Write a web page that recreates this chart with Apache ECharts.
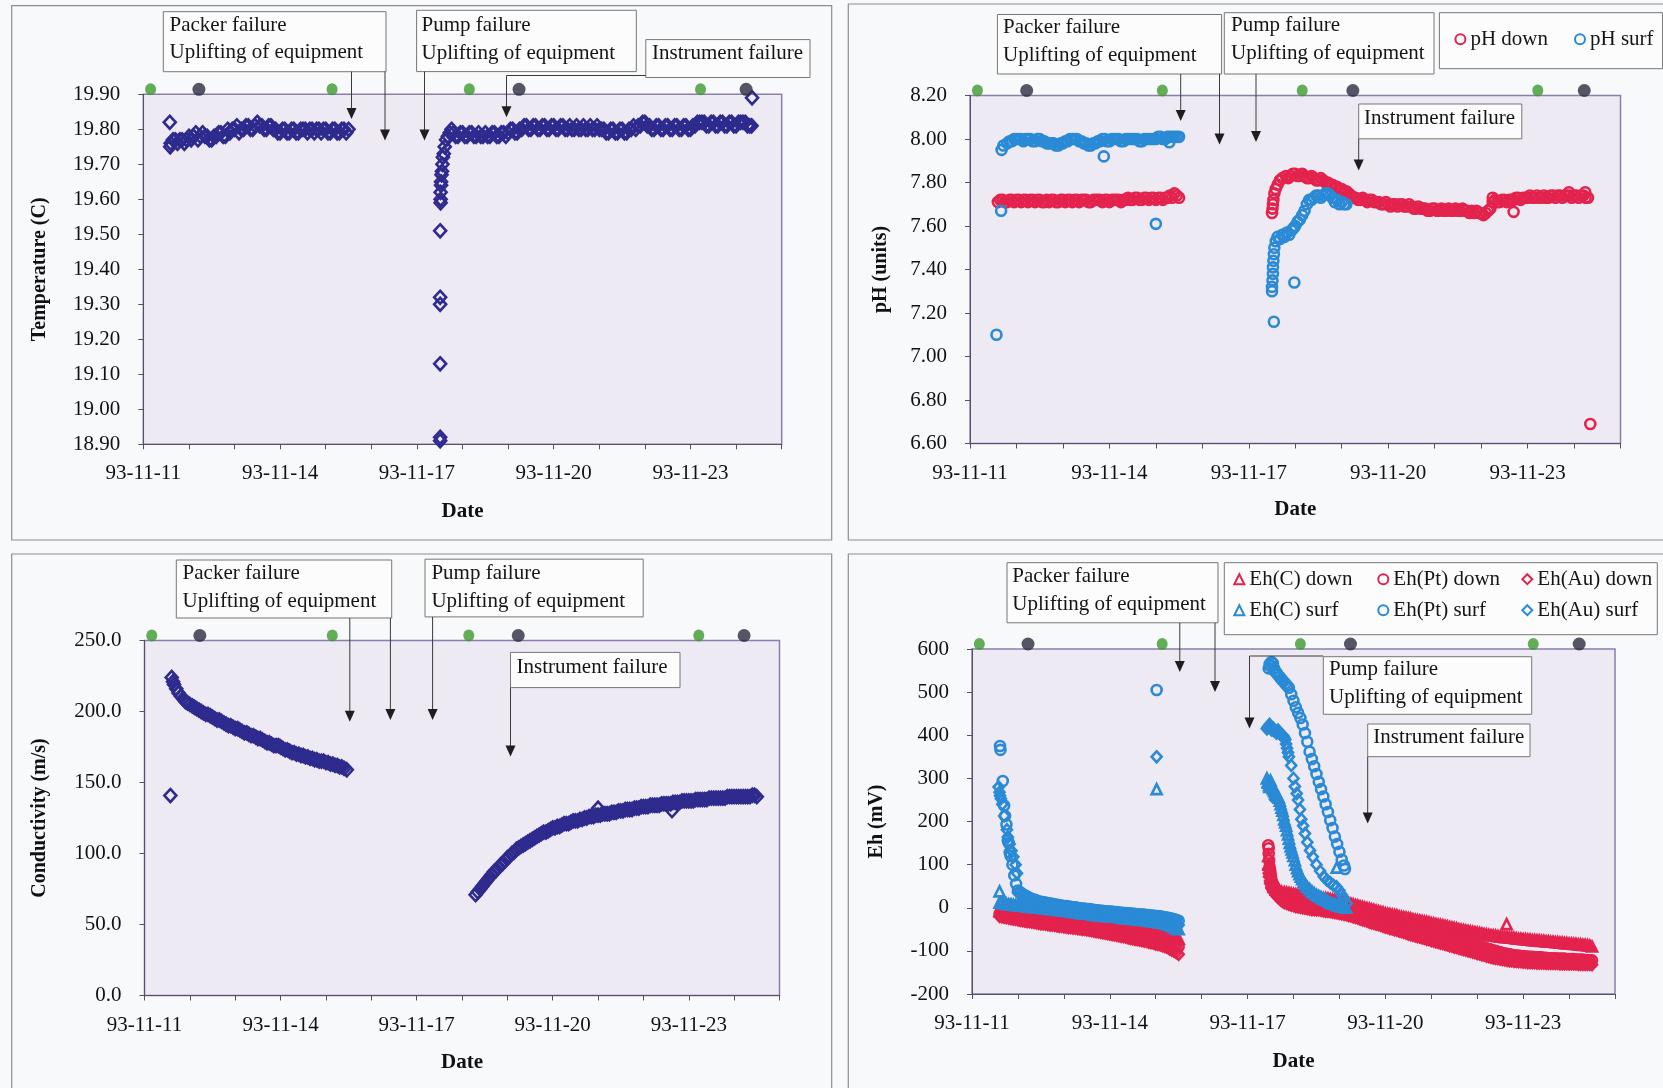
<!DOCTYPE html>
<html>
<head>
<meta charset="utf-8">
<title>Borehole monitoring, 93-11-11 to 93-11-25</title>
<script src="https://cdn.jsdelivr.net/npm/echarts/dist/echarts.min.js"></script>
<style>
  html, body { margin: 0; padding: 0; background: #f8f9fb; }
  #chart { width: 1663px; height: 1088px; }
</style>
</head>
<body>
<div id="chart"></div>
<script>
// ---------------------------------------------------------------
// Measured values. x = day of November 1993 (decimal); regular runs
// are logged every DAY_STEP days starting at the given day.
// ---------------------------------------------------------------
const DAY_STEP = 0.05;
const X_TICK_DAYS = [11, 14, 17, 20, 23];

// Temperature (C)
const tempStartA = 11.6;
const tempA = [
  19.76,19.77,19.77,19.76,19.77,19.77,19.76,19.77,19.78,19.77,
  19.78,19.79,19.77,19.78,19.79,19.78,19.78,19.77,19.77,19.78,
  19.78,19.79,19.79,19.78,19.78,19.80,19.79,19.80,19.80,19.81,
  19.79,19.80,19.80,19.81,19.81,19.80,19.80,19.81,19.82,19.81,
  19.81,19.80,19.80,19.81,19.81,19.80,19.80,19.79,19.79,19.80,
  19.80,19.79,19.79,19.80,19.80,19.79,19.79,19.80,19.80,19.80,
  19.79,19.80,19.80,19.79,19.80,19.80,19.79,19.80,19.80,19.79,
  19.79,19.80,19.80,19.79,19.79,19.80,19.80,19.79,19.80];
const tempStartB = 17.8;
const tempB = [
  19.79,19.78,19.78,19.79,19.79,19.78,19.78,19.79,19.79,19.78,
  19.78,19.79,19.78,19.78,19.79,19.78,19.78,19.79,19.79,19.78,
  19.78,19.79,19.79,19.78,19.79,19.80,19.80,19.79,19.79,19.80,
  19.80,19.81,19.81,19.80,19.80,19.81,19.81,19.80,19.80,19.81,
  19.81,19.80,19.80,19.81,19.81,19.80,19.80,19.81,19.81,19.80,
  19.80,19.81,19.80,19.80,19.81,19.80,19.80,19.81,19.80,19.80,
  19.81,19.80,19.80,19.81,19.80,19.80,19.80,19.79,19.79,19.80,
  19.80,19.79,19.79,19.80,19.80,19.79,19.79,19.80,19.80,19.81,
  19.80,19.81,19.81,19.82,19.82,19.81,19.81,19.80,19.80,19.81,
  19.81,19.80,19.80,19.81,19.81,19.80,19.80,19.81,19.81,19.80,
  19.80,19.81,19.81,19.80,19.80,19.81,19.81,19.82,19.82,19.82,
  19.82,19.81,19.81,19.82,19.82,19.81,19.81,19.82,19.82,19.81,
  19.81,19.82,19.82,19.81,19.81,19.82,19.82,19.82,19.82,19.81,
  19.81];
const tempExtra = [[11.58,19.82],[11.59,19.75],
  [17.51,18.91],[17.51,18.92],[17.51,19.13],[17.51,19.30],[17.51,19.32],[17.51,19.51],
  [17.52,19.59],[17.52,19.60],[17.52,19.62],[17.53,19.64],[17.53,19.65],[17.54,19.67],
  [17.55,19.68],[17.56,19.70],[17.57,19.72],[17.59,19.73],[17.61,19.75],[17.64,19.77],
  [17.68,19.78],[17.72,19.79],[17.76,19.80],[24.35,19.89],[24.34,19.81]];

// pH (units)
const phDownStartA = 11.6;
const phDownA = [
  7.71,7.72,7.72,7.71,7.71,7.72,7.72,7.71,7.72,7.72,
  7.71,7.72,7.72,7.71,7.72,7.72,7.71,7.72,7.72,7.71,
  7.71,7.72,7.71,7.72,7.72,7.71,7.71,7.72,7.72,7.71,
  7.72,7.72,7.71,7.72,7.72,7.71,7.72,7.72,7.72,7.71,
  7.71,7.72,7.72,7.72,7.72,7.71,7.72,7.72,7.71,7.72,
  7.72,7.72,7.72,7.71,7.72,7.72,7.73,7.72,7.72,7.73,
  7.73,7.72,7.72,7.73,7.73,7.72,7.73,7.73,7.72,7.73,
  7.73,7.72,7.73,7.73,7.74,7.73,7.75,7.74,7.73];
const phDownStartB = 17.8;
const phDownB = [
  7.83,7.82,7.83,7.84,7.84,7.83,7.83,7.84,7.83,7.82,
  7.82,7.83,7.82,7.81,7.81,7.82,7.81,7.80,7.80,7.79,
  7.79,7.78,7.78,7.77,7.77,7.76,7.76,7.75,7.74,7.73,
  7.73,7.72,7.72,7.73,7.72,7.71,7.72,7.72,7.71,7.71,
  7.71,7.70,7.70,7.71,7.70,7.69,7.70,7.70,7.69,7.70,
  7.70,7.69,7.69,7.70,7.69,7.68,7.68,7.69,7.68,7.68,
  7.68,7.67,7.67,7.68,7.68,7.67,7.67,7.68,7.67,7.67,
  7.68,7.67,7.67,7.68,7.67,7.67,7.68,7.67,7.67,7.66,
  7.67,7.66,7.67,7.66,7.66,7.65,7.66,7.67,7.68,7.71,
  7.72,7.71,7.71,7.72,7.72,7.71,7.72,7.72,7.72,7.73,
  7.73,7.72,7.73,7.73,7.73,7.74,7.73,7.73,7.74,7.73,
  7.73,7.74,7.73,7.73,7.74,7.74,7.73,7.74,7.74,7.73,
  7.74,7.74,7.74,7.73,7.74,7.74,7.73,7.74,7.74,7.73,
  7.73];
const phDownExtra = [[17.50,7.66],[17.51,7.68],[17.52,7.70],[17.53,7.72],[17.55,7.75],
  [17.58,7.77],[17.62,7.79],[17.67,7.81],[17.72,7.82],[22.25,7.73],[22.70,7.665],
  [23.89,7.755],[24.24,7.755],[24.35,6.69]];
const phSurfStartA = 11.8;
const phSurfA = [
  7.98,7.99,7.99,8.00,8.00,8.00,8.00,7.99,8.00,8.00,
  8.00,7.99,7.99,8.00,8.00,7.99,7.99,7.98,7.98,7.98,
  7.98,7.97,7.97,7.98,7.98,7.99,7.99,8.00,8.00,8.00,
  8.00,7.99,7.99,7.98,7.98,7.97,7.97,7.98,7.98,7.99,
  7.99,8.00,8.00,7.99,7.99,8.00,8.00,8.00,8.00,7.99,
  7.99,8.00,8.00,8.00,8.00,8.00,8.00,7.99,7.99,8.00,
  8.00,8.00,8.00,8.00,8.00,8.01,8.01,8.00,8.00,8.01,
  8.01,8.01,8.01,8.01,8.01];
const phSurfStartB = 18.0;
const phSurfB = [7.60,7.62,7.63,7.65,7.67,7.70,7.72,7.72,7.73,7.74,
                 7.74,7.73,7.74,7.75,7.75,7.74,7.73,7.71,7.72,7.70,
                 7.71,7.70,7.70];
const phSurfExtra = [[11.57,7.10],[11.67,7.67],[11.68,7.95],[11.72,7.97],[13.88,7.92],
  [15.00,7.61],[15.29,7.985],
  [17.50,7.30],[17.50,7.32],[17.51,7.35],[17.52,7.38],[17.52,7.41],[17.53,7.44],
  [17.54,7.47],[17.55,7.50],[17.54,7.16],[17.58,7.53],[17.62,7.55],[17.67,7.54],
  [17.72,7.56],[17.77,7.55],[17.82,7.57],[17.87,7.56],[17.92,7.58],[17.96,7.59],[17.98,7.34]];

// Conductivity (m/s)
const condStartA = 11.6;
const condA = [
  224,219,216,213,211,209,207,206,205,204,
  203,202,201,200,199,198,198,197,196,195,
  194,194,193,192,191,190,190,189,188,188,
  187,186,185,185,184,183,183,182,181,181,
  180,179,178,178,177,176,176,176,175,174,
  173,173,172,171,171,170,170,169,169,168,
  168,167,167,166,166,165,165,165,164,164,
  163,163,162,162,161,161,160];
const condStartB = 18.3;
const condB = [
  71,73,75,77,79,81,83,85,87,88,
  90,92,93,95,97,98,100,101,103,104,
  105,106,107,108,109,110,111,112,113,114,
  115,115,116,117,118,118,119,119,120,121,
  121,121,122,123,123,123,124,124,125,125,
  126,126,126,127,127,127,128,128,128,128,
  129,129,129,130,130,130,131,131,131,131,
  132,132,132,133,133,133,133,134,134,134,
  134,134,135,135,135,135,135,136,136,136,
  136,137,137,137,137,137,137,138,138,138,
  138,138,138,139,139,139,139,139,139,139,
  139,140,140,140,140,140,140,140,140,140,
  140,140,141,141,140];
const condExtra = [[11.57,140.8],[11.63,221],[15.46,159],[21.00,131.9],[22.63,130.2]];

// Eh (mV), first run
const ehStartA = 11.6;
const ehCDownA = [
  -8,-10,-11,-12,-13,-15,-16,-17,-18,-19,
  -20,-21,-22,-23,-24,-25,-26,-27,-28,-28,
  -29,-30,-30,-31,-31,-32,-33,-34,-34,-35,
  -35,-36,-36,-37,-38,-38,-39,-39,-40,-41,
  -41,-42,-42,-43,-44,-44,-45,-45,-46,-47,
  -48,-48,-49,-50,-50,-51,-52,-52,-53,-54,
  -55,-55,-56,-57,-58,-59,-60,-61,-62,-63,
  -64,-65,-66,-67,-68,-69,-70,-71,-72];
const ehPtDownA = [
  -14,-15,-16,-18,-19,-20,-21,-22,-23,-24,
  -25,-26,-27,-28,-29,-30,-30,-31,-32,-32,
  -33,-34,-35,-35,-36,-37,-38,-38,-39,-39,
  -40,-41,-42,-42,-43,-43,-44,-44,-45,-46,
  -47,-47,-48,-49,-50,-50,-51,-52,-53,-54,
  -55,-55,-56,-57,-58,-59,-60,-61,-62,-63,
  -64,-65,-66,-67,-68,-69,-70,-71,-73,-74,
  -75,-76,-78,-80,-82,-84,-86,-88,-90];
const ehAuDownA = [
  -20,-21,-22,-23,-24,-25,-26,-27,-28,-29,
  -30,-31,-32,-32,-33,-34,-35,-36,-37,-37,
  -38,-39,-40,-40,-41,-42,-43,-43,-44,-45,
  -46,-46,-47,-47,-48,-49,-50,-50,-51,-52,
  -53,-54,-55,-56,-57,-58,-59,-60,-61,-62,
  -63,-64,-65,-66,-67,-68,-70,-71,-72,-73,
  -74,-75,-76,-77,-78,-80,-81,-82,-84,-85,
  -86,-88,-90,-92,-95,-98,-101,-104,-108];
const ehCSurfA = [
  12,11,10,9,8,8,7,6,6,5,
  5,4,3,3,2,1,1,0,0,-1,
  -1,-2,-3,-3,-4,-4,-5,-6,-7,-7,
  -8,-9,-10,-10,-11,-12,-13,-13,-14,-14,
  -15,-16,-17,-17,-18,-18,-19,-19,-20,-20,
  -21,-21,-22,-23,-24,-24,-25,-25,-26,-26,
  -27,-27,-28,-28,-29,-30,-31,-31,-32,-33,
  -34,-35,-36,-38,-40,-42,-45,-48,-50];
const ehSurfStartA = 12.0;
const ehPtSurfA = [
  40,36,32,29,26,23,21,19,17,15,
  14,13,12,11,10,9,8,7,6,5,
  4,4,3,2,1,1,0,-1,-2,-2,
  -3,-3,-4,-5,-6,-6,-7,-7,-8,-8,
  -9,-9,-10,-10,-11,-11,-12,-12,-13,-13,
  -14,-14,-15,-15,-16,-16,-17,-17,-18,-18,
  -19,-19,-20,-21,-22,-23,-24,-25,-27,-28,
  -30];
const ehAuSurfA = [
  35,31,28,25,22,19,17,15,13,11,
  10,9,8,7,6,5,4,3,2,1,
  0,-1,-1,-2,-3,-3,-4,-5,-6,-6,
  -7,-7,-8,-9,-10,-10,-11,-11,-12,-12,
  -13,-13,-14,-14,-15,-15,-16,-16,-17,-17,
  -18,-18,-19,-19,-20,-20,-21,-21,-22,-23,
  -24,-24,-25,-26,-28,-29,-31,-33,-35,-37,
  -40];
// Eh (mV), second run
const ehStartB = 17.8;
const ehCDownB = [
  36,35,34,33,32,31,30,29,28,27,
  27,26,26,25,24,24,23,22,22,21,
  20,19,18,17,16,15,14,12,11,9,
  8,6,5,3,2,0,-1,-2,-4,-5,
  -7,-8,-10,-11,-13,-14,-15,-16,-17,-18,
  -20,-21,-22,-23,-24,-25,-27,-28,-29,-30,
  -31,-32,-33,-34,-36,-37,-38,-39,-40,-41,
  -42,-43,-45,-46,-47,-48,-50,-51,-52,-53,
  -54,-55,-56,-57,-58,-59,-60,-61,-62,-63,
  -64,-64,-65,-66,-67,-67,-68,-68,-69,-69,
  -70,-71,-72,-72,-73,-73,-74,-74,-75,-75,
  -76,-76,-77,-77,-78,-78,-79,-79,-80,-80,
  -81,-81,-82,-82,-83,-83,-84,-84,-85,-85,
  -86,-86,-87,-88,-90];
const ehPtDownB = [
  28,26,24,22,20,18,17,16,15,14,
  13,12,12,11,10,10,9,8,7,7,
  6,5,4,3,2,1,0,-2,-3,-5,
  -6,-8,-9,-11,-12,-14,-16,-18,-19,-21,
  -22,-24,-25,-27,-28,-30,-31,-33,-34,-36,
  -37,-39,-40,-42,-43,-45,-46,-48,-49,-51,
  -52,-54,-55,-57,-58,-60,-61,-63,-64,-66,
  -67,-69,-70,-72,-73,-75,-76,-78,-79,-81,
  -82,-84,-85,-87,-88,-90,-91,-93,-94,-96,
  -97,-99,-100,-102,-103,-105,-106,-107,-108,-109,
  -110,-111,-111,-112,-112,-113,-113,-114,-114,-115,
  -115,-115,-115,-116,-116,-117,-117,-117,-117,-118,
  -118,-118,-118,-119,-119,-119,-119,-120,-120,-120,
  -120,-121,-121,-122,-122];
const ehAuDownB = [
  12,10,8,6,5,3,2,1,0,-1,
  -2,-3,-4,-4,-5,-5,-6,-7,-8,-8,
  -9,-10,-11,-12,-13,-14,-15,-16,-18,-19,
  -21,-22,-24,-26,-28,-29,-31,-33,-35,-36,
  -38,-39,-41,-43,-45,-46,-48,-49,-51,-52,
  -54,-55,-57,-59,-61,-62,-64,-65,-67,-68,
  -70,-71,-73,-74,-76,-77,-79,-80,-82,-83,
  -85,-86,-88,-89,-91,-92,-94,-95,-97,-98,
  -100,-101,-103,-104,-106,-107,-109,-110,-112,-113,
  -115,-116,-117,-118,-119,-120,-121,-122,-123,-123,
  -124,-124,-125,-125,-126,-126,-127,-127,-127,-127,
  -128,-128,-128,-128,-129,-129,-129,-129,-129,-129,
  -130,-130,-130,-130,-130,-130,-130,-130,-131,-131,
  -131,-131,-131,-131,-132];
// Eh (mV), isolated readings and the fast transients after restart
const ehCDownExtra  = [[17.45,120],[17.46,100],[17.48,85],[17.50,70],[17.53,58],[17.57,48],
                       [17.62,42],[17.68,38],[17.74,37],[22.64,-38]];
const ehPtDownExtra = [[17.45,145],[17.46,138],[17.46,125],[17.47,110],[17.48,95],[17.49,88],
                       [17.50,80],[17.51,72],[17.52,65],[17.54,58],[17.55,55],[17.58,50],
                       [17.60,45],[17.63,41],[17.65,38],[17.70,32],[17.75,30]];
const ehAuDownExtra = [[17.45,90],[17.46,80],[17.47,72],[17.49,62],[17.50,55],[17.52,48],
                       [17.54,42],[17.57,37],[17.60,32],[17.63,28],[17.66,24],[17.72,18],[17.76,15]];
const ehCSurfExtra  = [[11.60,38],[15.02,275],
  [17.42,300],[17.44,292],[17.45,290],[17.47,284],[17.48,280],[17.50,295],[17.52,288],
  [17.53,285],[17.55,278],[17.56,275],[17.58,270],[17.60,265],[17.62,262],[17.64,260],
  [17.66,258],[17.68,255],[17.70,248],[17.72,240],[17.74,232],[17.76,225],[17.78,215],
  [17.80,205],[17.82,198],[17.84,190],[17.86,180],[17.88,170],[17.90,160],[17.92,150],
  [17.94,142],[17.96,135],[17.98,128],[18.00,120],[18.03,110],[18.05,100],[18.08,92],
  [18.10,85],[18.13,78],[18.16,72],[18.19,66],[18.22,60],[18.26,54],[18.30,48],[18.35,43],
  [18.40,38],[18.45,34],[18.50,30],[18.55,27],[18.60,24],[18.65,21],[18.70,18],[18.75,15],
  [18.80,12],[18.85,10],[18.90,8],[18.95,6],[19.00,5],[19.05,3],[19.10,2],[19.15,0],[18.94,93]];
const ehPtSurfExtra = [[11.61,375],[11.62,366],[11.67,294],[11.70,237],[11.72,213],[11.75,193],
  [11.78,156],[11.80,150],[11.82,128],[11.84,120],[11.88,100],[11.92,75],[11.96,55],
  [15.02,505],
  [17.46,555],[17.48,565],[17.50,560],[17.52,570],[17.55,567],[17.58,555],[17.60,548],
  [17.63,545],[17.66,540],[17.70,535],[17.74,530],[17.78,525],[17.82,520],[17.86,515],
  [17.90,510],[17.95,495],[18.00,480],[18.05,465],[18.10,452],[18.15,440],[18.20,425],
  [18.25,405],[18.30,385],[18.35,362],[18.40,345],[18.45,328],[18.50,310],[18.55,292],
  [18.60,275],[18.65,258],[18.70,240],[18.75,222],[18.80,203],[18.85,185],[18.90,165],
  [18.95,148],[19.00,130],[19.05,112],[19.10,98],[19.12,90]];
const ehAuSurfExtra = [[11.58,280],[11.60,268],[11.61,260],[11.63,253],[11.66,240],[11.70,213],
  [11.76,181],[11.78,164],[11.82,148],[11.86,132],[11.90,118],[11.95,100],[11.98,80],
  [15.02,350],
  [17.42,415],[17.44,418],[17.45,420],[17.47,422],[17.48,425],[17.50,418],[17.52,414],
  [17.53,412],[17.55,416],[17.56,415],[17.58,411],[17.60,410],[17.62,407],[17.63,405],
  [17.65,409],[17.66,412],[17.68,406],[17.70,404],[17.72,402],[17.74,400],[17.76,399],
  [17.78,398],[17.80,394],[17.82,390],[17.84,380],[17.86,370],[17.88,360],[17.90,350],
  [17.95,330],[18.00,300],[18.03,281],[18.07,265],[18.10,250],[18.14,228],[18.17,205],
  [18.21,190],[18.25,172],[18.30,152],[18.36,133],[18.42,118],[18.50,100],[18.58,85],
  [18.66,72],[18.73,64],[18.80,58],[18.87,52],[18.94,48],[19.00,40],[19.05,30],
  [19.10,20],[19.16,10]];

// Sampling visits shown along the top edge of every panel
const visitGreenDays = [11.16, 15.14, 18.15, 23.22];
const visitDarkDays  = [12.22, 19.24, 24.22];

// ---------------------------------------------------------------
const FONT = "'Liberation Serif','Times New Roman',serif";
const NAVY = '#2f2b8e', RED = '#e3234d', BLUE = '#2a8ad6';

function run(start, vals) {
  return vals.map((v, i) => [Math.round((start + i * DAY_STEP) * 100) / 100, v]);
}
function dayLabel(v) {
  const d = Math.round(v);
  return X_TICK_DAYS.indexOf(d) >= 0 && Math.abs(v - d) < 1e-6 ? '93-11-' + d : '';
}

const grids = [
  { left: 143.3, top: 94.3,  width: 638.4, height: 350 },
  { left: 970,   top: 95.5,  width: 650.5, height: 348 },
  { left: 144.5, top: 640.5, width: 635,   height: 355 },
  { left: 972,   top: 649,   width: 643,   height: 345 }
].map(g => Object.assign(g, {
  show: true, backgroundColor: '#eeeaf4', borderColor: '#8b7eab', borderWidth: 1.5,
  containLabel: false, outerBoundsMode: 'none'
}));

function xAxisFor(i, gap) {
  return {
    type: 'value', gridIndex: i, min: 11, max: 25, interval: 1,
    name: 'Date', nameLocation: 'middle', nameGap: gap,
    nameTextStyle: { fontFamily: FONT, fontWeight: 'bold', fontSize: 21, color: '#111' },
    axisLine: { show: true, onZero: false, lineStyle: { color: '#55506a', width: 1 } },
    axisTick: { show: true, inside: false, length: 5, lineStyle: { color: '#55506a' } },
    axisLabel: { margin: 19, fontFamily: FONT, fontSize: 21, color: '#111', formatter: dayLabel },
    splitLine: { show: false }
  };
}
function yAxisFor(i, min, max, step, digits, name, gap) {
  return {
    type: 'value', gridIndex: i, min, max, interval: step,
    name, nameLocation: 'middle', nameGap: gap,
    nameTextStyle: { fontFamily: FONT, fontWeight: 'bold', fontSize: 20, color: '#111' },
    axisLine: { show: true, onZero: false, lineStyle: { color: '#55506a', width: 1 } },
    axisTick: { show: true, inside: false, length: 5, lineStyle: { color: '#55506a' } },
    axisLabel: { margin: 23, fontFamily: FONT, fontSize: 21, color: '#111',
                 formatter: v => v.toFixed(digits) },
    splitLine: { show: false }
  };
}

function pts(name, i, symbol, size, color, data) {
  return {
    type: 'scatter', name, xAxisIndex: i, yAxisIndex: i, symbol, symbolSize: size,
    itemStyle: { color: 'rgba(0,0,0,0)', borderColor: color, borderWidth: 2.6, opacity: 1 },
    emphasis: { disabled: true }, silent: true, data
  };
}
function visits(i, top) {
  return [
    { type: 'scatter', xAxisIndex: i, yAxisIndex: i, symbol: 'circle', symbolSize: [11, 12],
      symbolOffset: [0, -5], clip: false, silent: true, itemStyle: { color: '#3f9a30' },
      data: visitGreenDays.map(d => [d, top]) },
    { type: 'scatter', xAxisIndex: i, yAxisIndex: i, symbol: 'circle', symbolSize: 13,
      symbolOffset: [0, -5], clip: false, silent: true, itemStyle: { color: '#2b2c40' },
      data: visitDarkDays.map(d => [d, top]) }
  ];
}

const series = [
  pts('Temperature', 0, 'diamond', [12, 13], NAVY,
      run(tempStartA, tempA).concat(run(tempStartB, tempB), tempExtra)),
  pts('pH down', 1, 'circle', 10, RED,
      run(phDownStartA, phDownA).concat(run(phDownStartB, phDownB), phDownExtra)),
  pts('pH surf', 1, 'circle', 10, BLUE,
      run(phSurfStartA, phSurfA).concat(run(phSurfStartB, phSurfB), phSurfExtra)),
  pts('Conductivity', 2, 'diamond', [12, 13], NAVY,
      run(condStartA, condA).concat(run(condStartB, condB), condExtra)),
  pts('Eh(C) down', 3, 'triangle', 10, RED,
      run(ehStartA, ehCDownA).concat(run(ehStartB, ehCDownB), ehCDownExtra)),
  pts('Eh(Pt) down', 3, 'circle', 10, RED,
      run(ehStartA, ehPtDownA).concat(run(ehStartB, ehPtDownB), ehPtDownExtra)),
  pts('Eh(Au) down', 3, 'diamond', [10, 11], RED,
      run(ehStartA, ehAuDownA).concat(run(ehStartB, ehAuDownB), ehAuDownExtra)),
  pts('Eh(C) surf', 3, 'triangle', 10, BLUE,
      run(ehStartA, ehCSurfA).concat(ehCSurfExtra)),
  pts('Eh(Pt) surf', 3, 'circle', 10, BLUE,
      run(ehSurfStartA, ehPtSurfA).concat(ehPtSurfExtra)),
  pts('Eh(Au) surf', 3, 'diamond', [10, 11], BLUE,
      run(ehSurfStartA, ehAuSurfA).concat(ehAuSurfExtra))
].concat(visits(0, 19.9), visits(1, 8.2), visits(2, 250), visits(3, 600));

// ---------------------------------------------------------------
// Panel frames, event notes and arrows (page layout, in pixels)
// ---------------------------------------------------------------
const graphic = [];
[[11.7, 5.7, 820, 534.3], [848.3, 4, 840, 536], [11.7, 554, 820, 560], [848.3, 554, 840, 560]]
  .forEach(([x, y, w, h]) => graphic.push({
    type: 'rect', z: 1, silent: true, shape: { x, y, width: w, height: h },
    style: { fill: 'none', stroke: '#8d8d8d', lineWidth: 1.2 }
  }));

function noteBox(x, y, w, h, tx, lines) {
  graphic.push({ type: 'rect', z: 50, silent: true, shape: { x, y, width: w, height: h },
                 style: { fill: '#fcfcfd', stroke: '#777', lineWidth: 1 } });
  lines.forEach(([text, cy]) => graphic.push({
    type: 'text', z: 51, silent: true, x: tx, y: cy,
    style: { text, fill: '#151515', font: '21px ' + FONT, textAlign: 'left', textVerticalAlign: 'middle' }
  }));
}
function arrow(points) {
  const tip = points[points.length - 1];
  const path = points.slice(0, -1).concat([[tip[0], tip[1] - 10]]);
  graphic.push({ type: 'polyline', z: 52, silent: true, shape: { points: path },
                 style: { stroke: '#3a3a3a', lineWidth: 1, fill: 'none' } });
  graphic.push({ type: 'polygon', z: 52, silent: true,
                 shape: { points: [[tip[0] - 5, tip[1] - 11], [tip[0] + 5, tip[1] - 11], tip] },
                 style: { fill: '#1e1e1e' } });
}
const PACK = 'Packer failure', PUMP = 'Pump failure', UPL = 'Uplifting of equipment', INST = 'Instrument failure';

// Temperature panel
noteBox(163.3, 11.7, 222.7, 60, 169.5, [[PACK, 25], [UPL, 52.5]]);
noteBox(416.6, 10.3, 219.7, 61.3, 421.5, [[PUMP, 25.5], [UPL, 53]]);
noteBox(645.8, 39.6, 164.2, 37.9, 652, [[INST, 53.5]]);
arrow([[351.5, 71.7], [351.5, 119]]);
arrow([[385, 71.7], [385, 140.5]]);
arrow([[424.5, 71.6], [424.5, 140.5]]);
arrow([[645.8, 75.5], [506.5, 75.5], [506.5, 117.3]]);

// pH panel
noteBox(997.4, 14.5, 224.2, 59.5, 1003, [[PACK, 27.5], [UPL, 55]]);
noteBox(1224.3, 12.7, 209.7, 61.3, 1231, [[PUMP, 25.8], [UPL, 53.4]]);
noteBox(1358.7, 104, 163.1, 34.8, 1364, [[INST, 118]]);
arrow([[1180.7, 74], [1180.7, 121]]);
arrow([[1219.5, 74], [1219.5, 144.6]]);
arrow([[1256, 74], [1256, 142]]);
arrow([[1358.7, 138.8], [1358.7, 170.5]]);

// Conductivity panel
noteBox(176.3, 560, 215.4, 58, 182.6, [[PACK, 573.5], [UPL, 601.2]]);
noteBox(425, 559.2, 218.2, 57.7, 431.4, [[PUMP, 573.5], [UPL, 601.2]]);
noteBox(510.5, 652.4, 169.5, 35.2, 516.5, [[INST, 667]]);
arrow([[349.8, 618], [349.8, 721.7]]);
arrow([[390.4, 618], [390.4, 720]]);
arrow([[432.6, 616.9], [432.6, 720]]);
arrow([[510.5, 687.6], [510.5, 756.5]]);

// Eh panel
noteBox(1007, 562.7, 211, 60.1, 1012.3, [[PACK, 576], [UPL, 604]]);
noteBox(1323.3, 656.7, 208.4, 57.6, 1329, [[PUMP, 669.5], [UPL, 697.3]]);
noteBox(1367.7, 724, 162.3, 32.7, 1373.3, [[INST, 737.5]]);
arrow([[1179.8, 622.8], [1179.8, 672]]);
arrow([[1215, 622.8], [1215, 692]]);
arrow([[1323.3, 656], [1249.5, 656], [1249.5, 728.5]]);
arrow([[1367.7, 756.7], [1367.7, 823.5]]);

const legendText = { fontFamily: FONT, fontSize: 21, color: '#151515', lineHeight: 14 };
const legend = [
  { data: ['pH down', 'pH surf'], left: 1439.4, top: 12.7, width: 320, orient: 'horizontal',
    itemWidth: 10, itemHeight: 10, itemGap: 26, selectedMode: false,
    padding: [16, 9, 19, 15], backgroundColor: '#fcfcfd', borderColor: '#777', borderWidth: 1,
    textStyle: legendText },
  { data: ['Eh(C) down', 'Eh(Pt) down', 'Eh(Au) down', 'Eh(C) surf', 'Eh(Pt) surf', 'Eh(Au) surf'],
    left: 1224.3, top: 562.7, width: 430, orient: 'horizontal',
    itemWidth: 10, itemHeight: 10, itemGap: 10, selectedMode: false,
    padding: [6, 2, 14, 9], backgroundColor: '#fcfcfd', borderColor: '#777', borderWidth: 1,
    textStyle: Object.assign({ width: 118 }, legendText) }
];

const chart = echarts.init(document.getElementById('chart'), null, { renderer: 'canvas' });
chart.setOption({
  animation: false,
  backgroundColor: '#f8f9fb',
  grid: grids,
  xAxis: [xAxisFor(0, 57), xAxisFor(1, 55.5), xAxisFor(2, 56.5), xAxisFor(3, 57)],
  yAxis: [
    yAxisFor(0, 18.9, 19.9, 0.1, 2, 'Temperature (C)', 93),
    yAxisFor(1, 6.6, 8.2, 0.2, 2, 'pH (units)', 79),
    yAxisFor(2, 0, 250, 50, 1, 'Conductivity (m/s)', 95),
    yAxisFor(3, -200, 600, 100, 0, 'Eh (mV)', 85)
  ],
  legend,
  series,
  graphic
});
</script>
</body>
</html>
